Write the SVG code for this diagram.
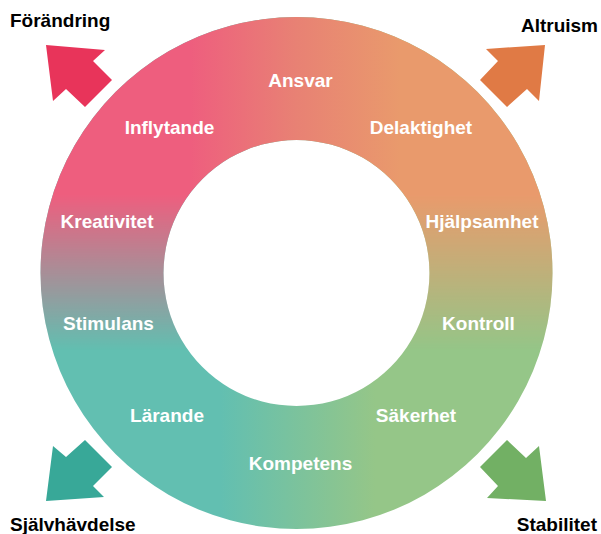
<svg xmlns="http://www.w3.org/2000/svg" width="601" height="534" viewBox="0 0 601 534">
  <defs>
    <style>
      .lbl { font-family: "Liberation Sans", Arial, sans-serif; font-weight: bold; font-size: 19px; fill: #ffffff; text-anchor: middle; }
      .head { font-family: "Liberation Sans", Arial, sans-serif; font-weight: bold; font-size: 19px; fill: #000000; }
    </style>
    <linearGradient id="gTop" gradientUnits="userSpaceOnUse" x1="190" y1="0" x2="400" y2="0">
      <stop offset="0" stop-color="#ee5e7e"/>
      <stop offset="0.5" stop-color="#e88174"/>
      <stop offset="1" stop-color="#e99a6c"/>
    </linearGradient>
    <linearGradient id="gBot" gradientUnits="userSpaceOnUse" x1="220" y1="0" x2="375" y2="0">
      <stop offset="0" stop-color="#62bfb1"/>
      <stop offset="1" stop-color="#95c688"/>
    </linearGradient>
    <linearGradient id="gMask" gradientUnits="userSpaceOnUse" x1="0" y1="195" x2="0" y2="350">
      <stop offset="0" stop-color="#ffffff"/>
      <stop offset="1" stop-color="#000000"/>
    </linearGradient>
    <mask id="topMask" maskUnits="userSpaceOnUse" x="0" y="0" width="601" height="534">
      <rect x="0" y="0" width="601" height="534" fill="url(#gMask)"/>
    </mask>
    <path id="ringShape" fill-rule="evenodd" d="M296.5,17 a256,256 0 1,0 0.01,0 Z M296.5,140 a133,133 0 1,1 -0.01,0 Z"/>
  </defs>

  <g id="ring">
    <use href="#ringShape" fill="url(#gBot)"/>
    <use href="#ringShape" fill="url(#gTop)" mask="url(#topMask)"/>
  </g>

  <g id="connectors">
    <polygon id="arrow-forandring" points="46,45 105,50 93,61 112,80 85,107 66,89 53,101" fill="#e8345a"/>
    <polygon id="arrow-altruism" points="545,45 486,49 498,61 480,80 507,107 527,89 539,101" fill="#e07a45"/>
    <polygon id="arrow-sjalvhavdelse" points="46,501 53,446 66,457 85,440 112,467 93,486 104,497" fill="#38a898"/>
    <polygon id="arrow-stabilitet" points="546,501 539,446 526,458 507,440 480,467 498,486 487,498" fill="#72b064"/>
  </g>

  <g id="values">
    <g id="n-ansvar"><text class="lbl" x="300.5" y="87">Ansvar</text></g>
    <g id="n-inflytande"><text class="lbl" x="169.5" y="134">Inflytande</text></g>
    <g id="n-delaktighet"><text class="lbl" x="421" y="134">Delaktighet</text></g>
    <g id="n-kreativitet"><text class="lbl" x="107" y="228">Kreativitet</text></g>
    <g id="n-hjalpsamhet"><text class="lbl" x="482" y="228">Hjälpsamhet</text></g>
    <g id="n-stimulans"><text class="lbl" x="108.5" y="330">Stimulans</text></g>
    <g id="n-kontroll"><text class="lbl" x="478.5" y="330">Kontroll</text></g>
    <g id="n-larande"><text class="lbl" x="167" y="422">Lärande</text></g>
    <g id="n-sakerhet"><text class="lbl" x="416" y="422">Säkerhet</text></g>
    <g id="n-kompetens"><text class="lbl" x="300.5" y="470">Kompetens</text></g>
  </g>

  <g id="dimensions">
    <g id="n-forandring"><text class="head" x="10" y="27">Förändring</text></g>
    <g id="n-altruism"><text class="head" x="598" y="32" text-anchor="end">Altruism</text></g>
    <g id="n-sjalvhavdelse"><text class="head" x="10" y="531">Självhävdelse</text></g>
    <g id="n-stabilitet"><text class="head" x="597" y="531" text-anchor="end">Stabilitet</text></g>
  </g>
</svg>
